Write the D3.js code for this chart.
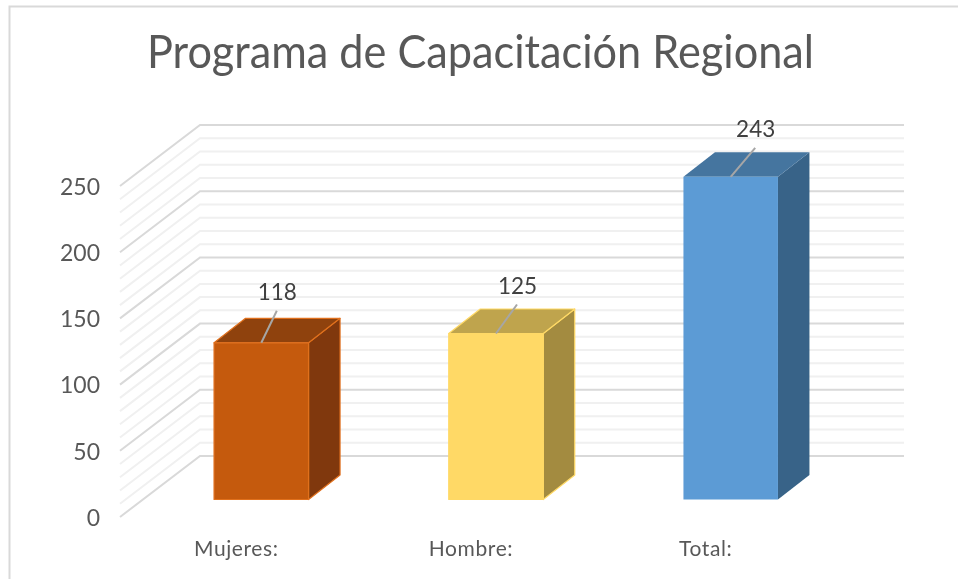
<!DOCTYPE html>
<html><head><meta charset="utf-8">
<script src="https://cdn.jsdelivr.net/npm/d3@7"></script>
<style>html,body{margin:0;padding:0;background:#fff}svg{display:block}</style></head>
<body><svg id="c" width="958" height="579"></svg>
<script>
const titleText = "Programa de Capacitación Regional";
const categories = ["Mujeres:", "Hombre:", "Total:"];
const values = [118, 125, 243];
const axisTicks = [0, 50, 100, 150, 200, 250];
const minorTicks = [10,20,30,40,60,70,80,90,110,120,130,140,160,170,180,190,210,220,230,240];
const frontColors = ["#C55A11", "#FFD966", "#5B9BD5"];
const topColors = ["#8F4309", "#BFA44D", "#44749F"];
const sideColors = ["#80390A", "#A38B3F", "#376488"];
const edgeColors = ["#E0701F", "#FFD966", "none"];
const edgeWidths = [1.2, 1.2, 0];

const FONT = "Lato, 'Open Sans', sans-serif";
const svg = d3.select("#c");
const defs = svg.append("defs");
defs.append("filter").attr("id","soft").append("feGaussianBlur").attr("stdDeviation",0.55);
const root = svg.append("g").attr("filter","url(#soft)");

// frame
root.append("path").attr("d","M9.5 579V6.5H958").attr("fill","none").attr("stroke","#d9d9d9").attr("stroke-width",2);

// scales
const yBack = d3.scaleLinear().domain([0,250]).range([456,125]);
const yFront = d3.scaleLinear().domain([0,250]).range([517,186]);
const barH = d3.scaleLinear().domain([0,250]).range([0,332]);
const x = d3.scalePoint().domain(categories).range([261.3,730.7]);
const wallBack = 200, wallFront = 120, wallRight = 904;
const barW = 94.5, baseY = 499.5, depthX = 31.5, depthY = 24.5;

// grid
function gridLine(v, color, w){
  root.append("path")
    .attr("d",`M${wallFront} ${yFront(v)}L${wallBack} ${yBack(v)}H${wallRight}`)
    .attr("fill","none").attr("stroke",color).attr("stroke-width",w);
}
minorTicks.forEach(v=>gridLine(v,"#f0f0f0",2));
axisTicks.forEach(v=>gridLine(v,"#d9d9d9",2));

// y labels
const yAxis = d3.axisLeft(yFront).tickValues(axisTicks).tickSize(0).tickPadding(0);
const gy = root.append("g").attr("transform","translate(100,1)").call(yAxis);
gy.select(".domain").remove();
gy.selectAll("text").attr("font-family",FONT).attr("font-size",23).attr("fill","#595959");

// bars
const labelOffsets = [[15.5,-32],[21,-29],[24.5,-29]];
categories.forEach((c,i)=>{
  const cx = x(c), l = cx-barW/2, r = cx+barW/2, t = baseY-barH(values[i]);
  const g = root.append("g").attr("stroke",edgeColors[i]).attr("stroke-width",edgeWidths[i]).attr("stroke-linejoin","round");
  g.append("path").attr("d",`M${r} ${t}l${depthX} ${-depthY}V${baseY-depthY}L${r} ${baseY}Z`).attr("fill",sideColors[i]);
  g.append("path").attr("d",`M${l} ${t}l${depthX} ${-depthY}H${r+depthX}L${r} ${t}Z`).attr("fill",topColors[i]);
  g.append("rect").attr("x",l).attr("y",t).attr("width",barW).attr("height",baseY-t).attr("fill",frontColors[i]);
  const [ox,oy] = labelOffsets[i];
  root.append("line").attr("x1",cx).attr("y1",t).attr("x2",cx+ox).attr("y2",t+oy)
    .attr("stroke","#a6a6a6").attr("stroke-width",2);
  root.append("text").attr("x",cx+ox+0.5).attr("y",t+oy-10.5).attr("text-anchor","middle")
    .attr("font-family",FONT).attr("font-size",22.5).attr("fill","#404040").text(values[i]);
  root.append("text").attr("x",cx-25).attr("y",556).attr("text-anchor","middle")
    .attr("font-family",FONT).attr("font-size",21).attr("letter-spacing",0.6).attr("fill","#595959").text(c);
});

// title
root.append("text").attr("x",480.5).attr("y",68).attr("text-anchor","middle")
  .attr("textLength",667).attr("lengthAdjust","spacingAndGlyphs")
  .attr("font-family",FONT).attr("font-size",46).attr("fill","#595959").text(titleText);
</script></body></html>
